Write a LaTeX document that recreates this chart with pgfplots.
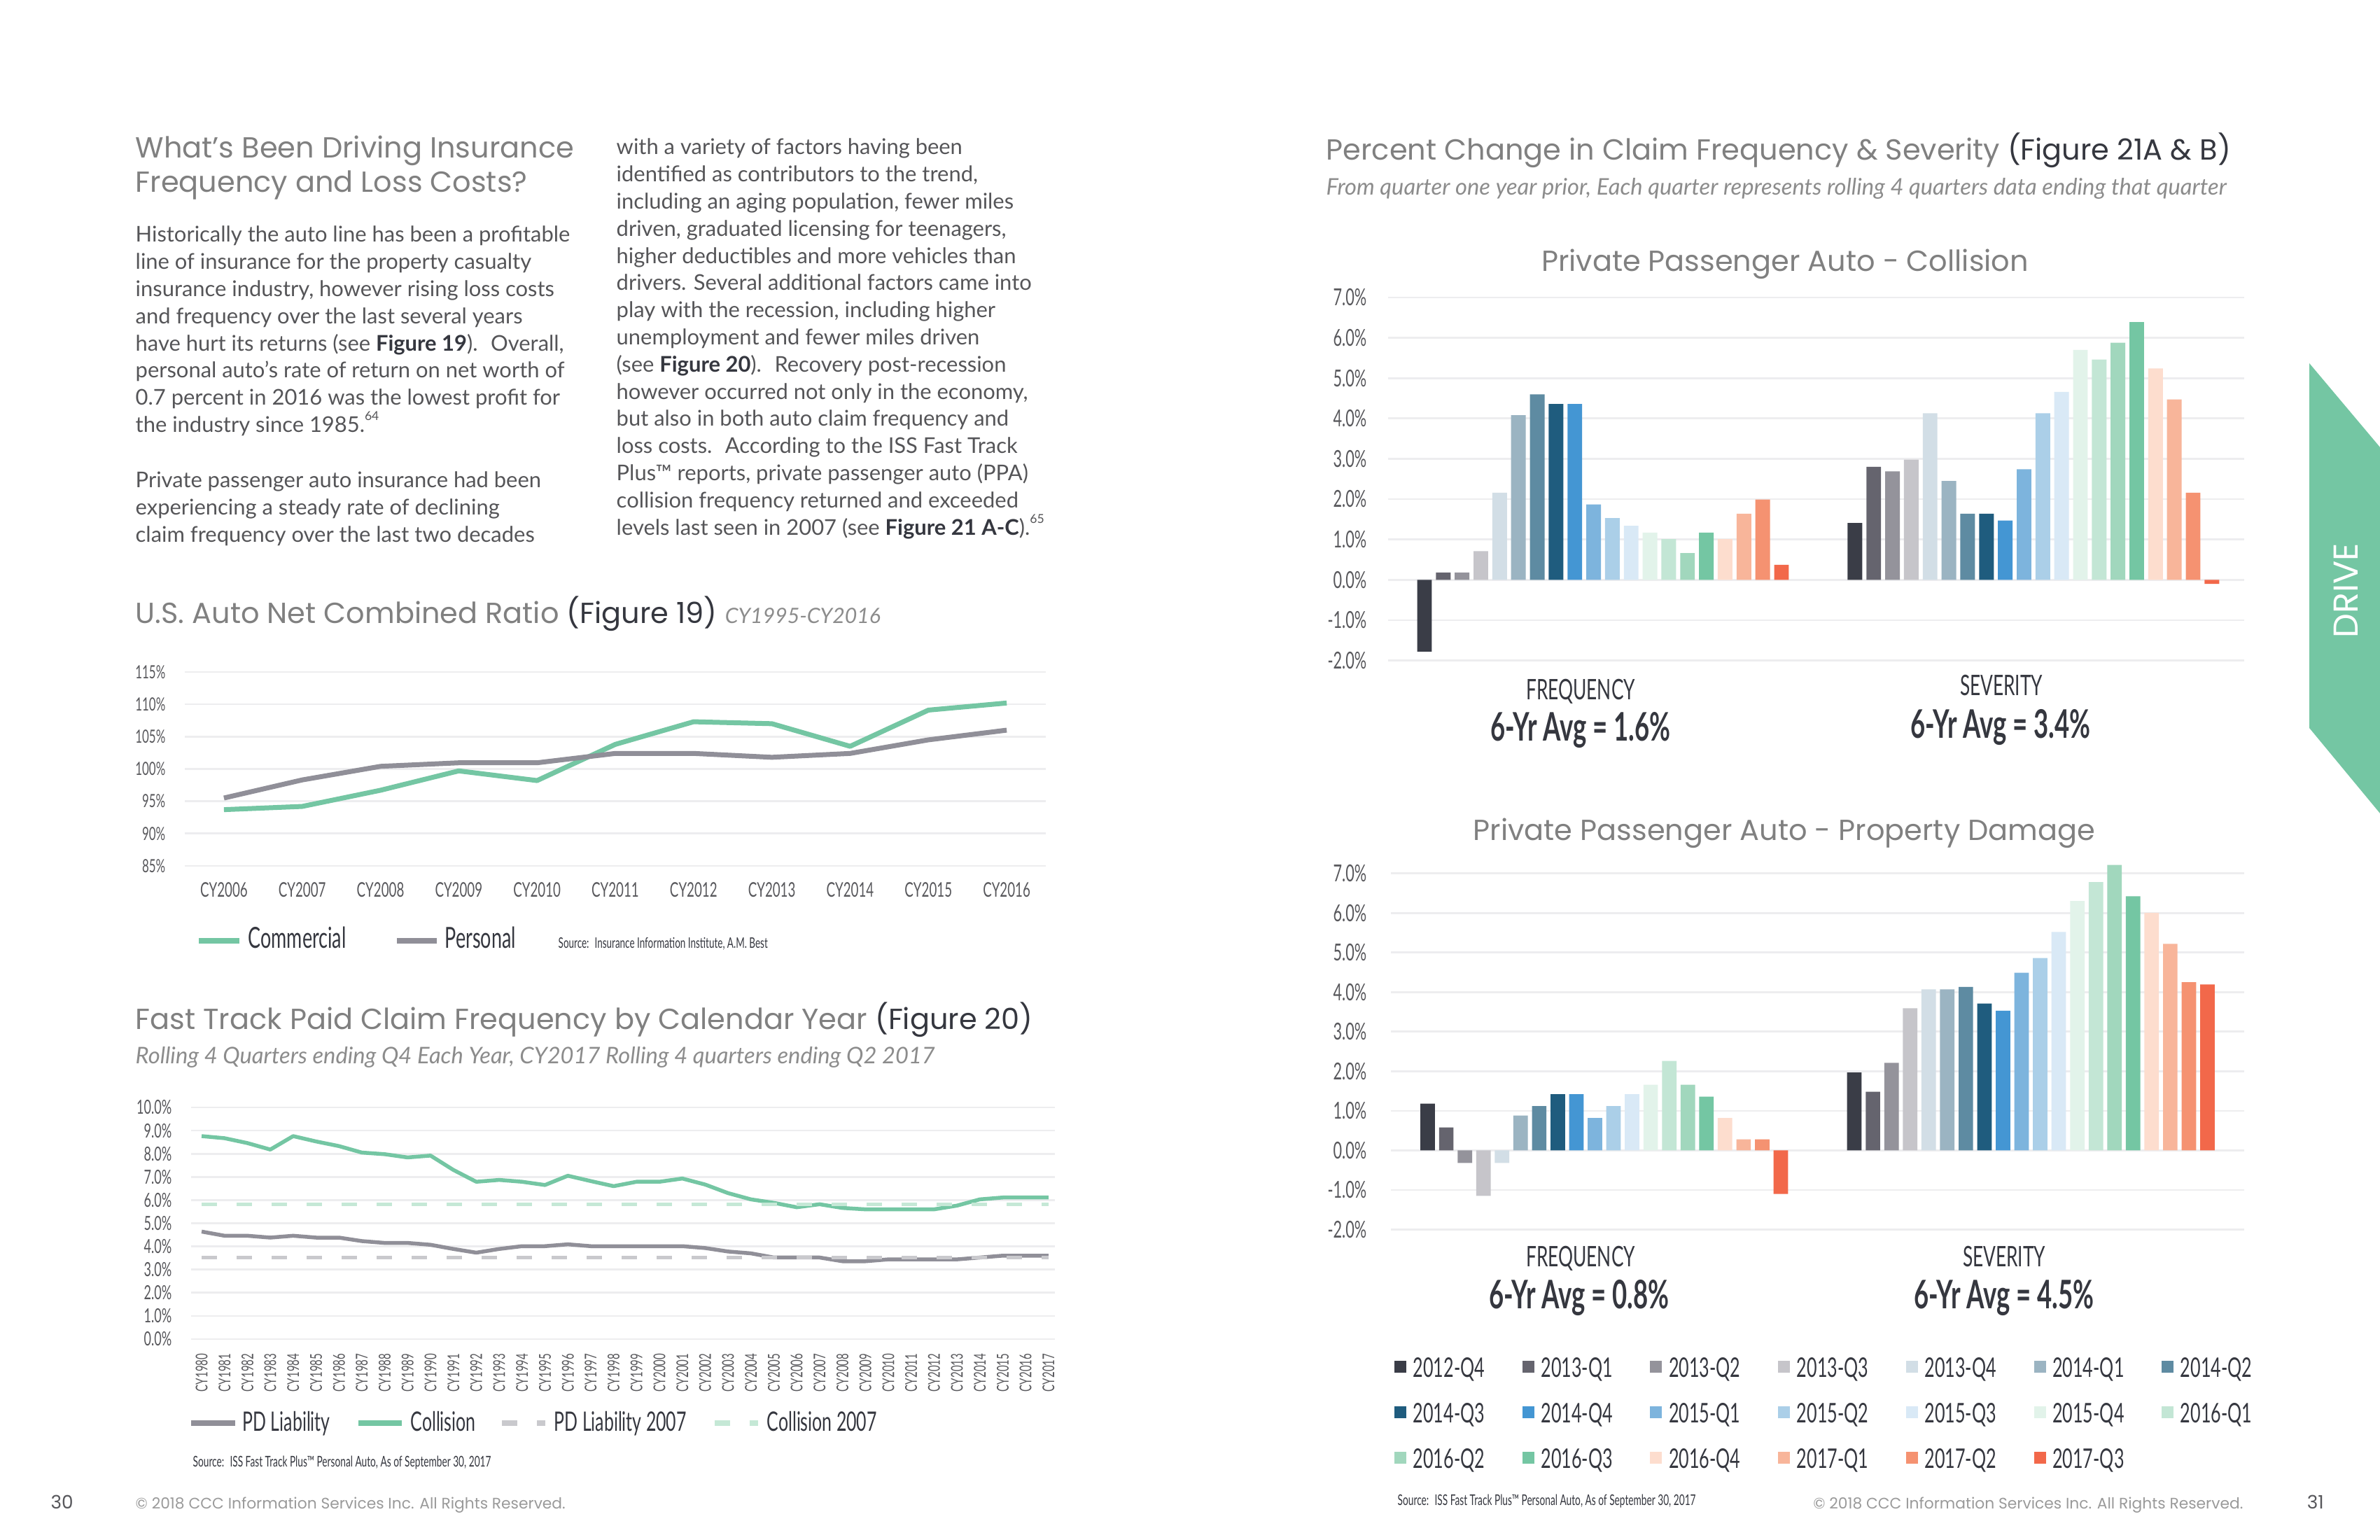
\documentclass[border=0pt]{standalone}
\usepackage{pgfplots}
\pgfplotsset{compat=1.18}
\usepackage{pgfplotstable}
\usepackage{fontspec}
\setmainfont{Lato}
\newfontfamily\headfont{Poppins}
\newfontfamily\condfont{Lato}[FakeStretch=0.65]

\definecolor{c1}{HTML}{3A3D47}
\definecolor{c2}{HTML}{65646E}
\definecolor{c3}{HTML}{94939B}
\definecolor{c4}{HTML}{C6C5CA}
\definecolor{c5}{HTML}{D2DEE6}
\definecolor{c6}{HTML}{9BB4C2}
\definecolor{c7}{HTML}{5E8BA2}
\definecolor{c8}{HTML}{1F5C7E}
\definecolor{c9}{HTML}{4496D3}
\definecolor{c10}{HTML}{7DB4DD}
\definecolor{c11}{HTML}{ABCFE8}
\definecolor{c12}{HTML}{D9E9F6}
\definecolor{c13}{HTML}{E2F3EA}
\definecolor{c14}{HTML}{C3E6D5}
\definecolor{c15}{HTML}{A1D7BD}
\definecolor{c16}{HTML}{74C6A3}
\definecolor{c17}{HTML}{FDDDCE}
\definecolor{c18}{HTML}{F8B59A}
\definecolor{c19}{HTML}{F59271}
\definecolor{c20}{HTML}{F2684A}
\definecolor{grn}{HTML}{74C6A3}
\definecolor{gry}{HTML}{908F98}
\definecolor{lgrn}{HTML}{C5E8D6}
\definecolor{lgry}{HTML}{C9C9CD}
\definecolor{gridc}{HTML}{EDEDEF}
\definecolor{headc}{HTML}{808080}
\definecolor{subc}{HTML}{8C8C8C}
\definecolor{bodyc}{HTML}{555558}
\definecolor{darkc}{HTML}{35373F}
\definecolor{tickc}{HTML}{58585C}
\definecolor{footc}{HTML}{9A9A9A}

\pgfplotstableread{
yr com per
2006 93.7 95.5
2007 94.2 98.3
2008 96.7 100.4
2009 99.7 100.95
2010 98.2 100.95
2011 103.8 102.4
2012 107.3 102.4
2013 107.0 101.8
2014 103.5 102.4
2015 109.1 104.5
2016 110.2 106.0
}\ratiotable

\pgfplotstableread{
yr col pd
1980 8.76 4.64
1981 8.67 4.46
1982 8.46 4.46
1983 8.18 4.38
1984 8.76 4.46
1985 8.53 4.38
1986 8.33 4.38
1987 8.05 4.23
1988 7.98 4.15
1989 7.84 4.15
1990 7.92 4.07
1991 7.30 3.89
1992 6.79 3.73
1993 6.87 3.89
1994 6.79 4.01
1995 6.65 4.01
1996 7.05 4.09
1997 6.82 4.01
1998 6.60 4.01
1999 6.79 4.01
2000 6.79 4.01
2001 6.93 4.01
2002 6.67 3.93
2003 6.30 3.78
2004 6.03 3.70
2005 5.88 3.52
2006 5.69 3.52
2007 5.82 3.52
2008 5.66 3.36
2009 5.60 3.36
2010 5.60 3.44
2011 5.60 3.44
2012 5.60 3.44
2013 5.76 3.44
2014 6.03 3.52
2015 6.11 3.60
2016 6.11 3.60
2017 6.11 3.60
}\frqtable

\pgfplotsset{
  pagechart/.style={
    scale only axis, anchor=south west,
    axis line style={draw=none},
    major tick length=0pt, tick style={draw=none},
    ymajorgrids, grid style={line width=0.27mm, gridc},
    yticklabel style={text=tickc, anchor=east, inner sep=0pt},
    xticklabel style={text=tickc, inner sep=0pt},
  },
  barbase/.style={ybar, bar width=0.78, bar shift=0pt, draw=none},
}

\newcommand\bodyf{\fontsize{8.8}{10}\selectfont}
\newcommand\headf{\headfont\fontsize{11.8}{13}\selectfont}
\newcommand\subf{\fontsize{9.3}{10}\selectfont\itshape}
\newcommand\fnsup[1]{\raisebox{0.55em}{\fontsize{5}{5}\selectfont #1}}

\begin{document}
\begin{tikzpicture}
\fill[white] (0,0) rectangle (340mm,220mm);
\path[use as bounding box] (0,0) rectangle (340mm,220mm);

% ---------------- Figure 19 ----------------
\begin{axis}[pagechart, at={(26.4mm,96.3mm)}, width=123mm, height=27.7mm,
  xmin=2005.5, xmax=2016.5, ymin=85, ymax=115,
  ytick={85,90,95,100,105,110,115},
  yticklabels={85\%,90\%,95\%,100\%,105\%,110\%,115\%},
  xtick={2006,2007,2008,2009,2010,2011,2012,2013,2014,2015,2016},
  xticklabels={CY2006,CY2007,CY2008,CY2009,CY2010,CY2011,CY2012,CY2013,CY2014,CY2015,CY2016},
  yticklabel style={font=\condfont\fontsize{7.4}{8}\selectfont},
  xticklabel style={font=\condfont\fontsize{8.2}{8}\selectfont},
  yticklabel shift=2.7mm, xticklabel shift=2.3mm]
\addplot[grn, line width=0.7mm, line join=round] table[x=yr, y=com] {\ratiotable};
\addplot[gry, line width=0.7mm, line join=round] table[x=yr, y=per] {\ratiotable};
\end{axis}

% ---------------- Figure 20 ----------------
\begin{axis}[pagechart, at={(27.3mm,28.7mm)}, width=123.4mm, height=33.1mm,
  xmin=1979.54, xmax=2017.28, ymin=0, ymax=10,
  ytick={0,1,2,3,4,5,6,7,8,9,10},
  yticklabels={0.0\%,1.0\%,2.0\%,3.0\%,4.0\%,5.0\%,6.0\%,7.0\%,8.0\%,9.0\%,10.0\%},
  xtick={1980,1981,...,2017},
  xticklabels={CY1980,CY1981,CY1982,CY1983,CY1984,CY1985,CY1986,CY1987,CY1988,CY1989,CY1990,CY1991,CY1992,CY1993,CY1994,CY1995,CY1996,CY1997,CY1998,CY1999,CY2000,CY2001,CY2002,CY2003,CY2004,CY2005,CY2006,CY2007,CY2008,CY2009,CY2010,CY2011,CY2012,CY2013,CY2014,CY2015,CY2016,CY2017},
  yticklabel style={font=\condfont\fontsize{7.9}{8}\selectfont},
  xticklabel style={font=\condfont\fontsize{6.6}{7}\selectfont, rotate=90, anchor=east},
  yticklabel shift=2.7mm, xticklabel shift=2.0mm]
\addplot[gry, line width=0.55mm, line join=round] table[x=yr, y=pd] {\frqtable};
\addplot[grn, line width=0.55mm, line join=round] table[x=yr, y=col] {\frqtable};
\addplot[lgry, line width=0.55mm, dash pattern=on 2.2mm off 2.8mm] coordinates {(1980,3.52) (2017,3.52)};
\addplot[lgrn, line width=0.55mm, dash pattern=on 2.2mm off 2.8mm] coordinates {(1980,5.82) (2017,5.82)};
\end{axis}

% ---------------- Figure 21A Collision ----------------
\begin{axis}[pagechart, at={(198.3mm,125.65mm)}, width=122.3mm, height=51.85mm,
  xmin=-1.937, xmax=43.63, ymin=-2, ymax=7, clip=false,
  ytick={-2,-1,0,1,2,3,4,5,6,7},
  yticklabels={-2.0\%,-1.0\%,0.0\%,1.0\%,2.0\%,3.0\%,4.0\%,5.0\%,6.0\%,7.0\%},
  xtick=\empty,
  yticklabel style={font=\condfont\fontsize{9.5}{10}\selectfont},
  yticklabel shift=3.0mm]
\addplot[barbase, fill=c1] coordinates {(0,-1.78) (22.91,1.41)};
\addplot[barbase, fill=c2] coordinates {(1,0.18) (23.91,2.80)};
\addplot[barbase, fill=c3] coordinates {(2,0.18) (24.91,2.69)};
\addplot[barbase, fill=c4] coordinates {(3,0.71) (25.91,2.98)};
\addplot[barbase, fill=c5] coordinates {(4,2.16) (26.91,4.13)};
\addplot[barbase, fill=c6] coordinates {(5,4.08) (27.91,2.45)};
\addplot[barbase, fill=c7] coordinates {(6,4.60) (28.91,1.64)};
\addplot[barbase, fill=c8] coordinates {(7,4.36) (29.91,1.64)};
\addplot[barbase, fill=c9] coordinates {(8,4.36) (30.91,1.47)};
\addplot[barbase, fill=c10] coordinates {(9,1.87) (31.91,2.74)};
\addplot[barbase, fill=c11] coordinates {(10,1.53) (32.91,4.13)};
\addplot[barbase, fill=c12] coordinates {(11,1.34) (33.91,4.66)};
\addplot[barbase, fill=c13] coordinates {(12,1.17) (34.91,5.70)};
\addplot[barbase, fill=c14] coordinates {(13,1.01) (35.91,5.46)};
\addplot[barbase, fill=c15] coordinates {(14,0.66) (36.91,5.88)};
\addplot[barbase, fill=c16] coordinates {(15,1.17) (37.91,6.39)};
\addplot[barbase, fill=c17] coordinates {(16,1.01) (38.91,5.24)};
\addplot[barbase, fill=c18] coordinates {(17,1.64) (39.91,4.47)};
\addplot[barbase, fill=c19] coordinates {(18,1.99) (40.91,2.16)};
\addplot[barbase, fill=c20] coordinates {(19,0.37) (41.91,-0.10)};
\end{axis}

% ---------------- Figure 21B Property Damage ----------------
\begin{axis}[pagechart, at={(198.7mm,44.35mm)}, width=121.9mm, height=50.89mm,
  xmin=-1.98, xmax=43.94, ymin=-2, ymax=7, clip=false,
  ytick={-2,-1,0,1,2,3,4,5,6,7},
  yticklabels={-2.0\%,-1.0\%,0.0\%,1.0\%,2.0\%,3.0\%,4.0\%,5.0\%,6.0\%,7.0\%},
  xtick=\empty,
  yticklabel style={font=\condfont\fontsize{9.5}{10}\selectfont},
  yticklabel shift=3.4mm]
\addplot[barbase, fill=c1] coordinates {(0,1.18) (22.96,1.97)};
\addplot[barbase, fill=c2] coordinates {(1,0.58) (23.96,1.48)};
\addplot[barbase, fill=c3] coordinates {(2,-0.32) (24.96,2.21)};
\addplot[barbase, fill=c4] coordinates {(3,-1.15) (25.96,3.59)};
\addplot[barbase, fill=c5] coordinates {(4,-0.32) (26.96,4.07)};
\addplot[barbase, fill=c6] coordinates {(5,0.88) (27.96,4.07)};
\addplot[barbase, fill=c7] coordinates {(6,1.12) (28.96,4.13)};
\addplot[barbase, fill=c8] coordinates {(7,1.42) (29.96,3.71)};
\addplot[barbase, fill=c9] coordinates {(8,1.42) (30.96,3.53)};
\addplot[barbase, fill=c10] coordinates {(9,0.82) (31.96,4.49)};
\addplot[barbase, fill=c11] coordinates {(10,1.12) (32.96,4.86)};
\addplot[barbase, fill=c12] coordinates {(11,1.42) (33.96,5.52)};
\addplot[barbase, fill=c13] coordinates {(12,1.66) (34.96,6.30)};
\addplot[barbase, fill=c14] coordinates {(13,2.26) (35.96,6.78)};
\addplot[barbase, fill=c15] coordinates {(14,1.66) (36.96,7.21)};
\addplot[barbase, fill=c16] coordinates {(15,1.36) (37.96,6.42)};
\addplot[barbase, fill=c17] coordinates {(16,0.82) (38.96,6.00)};
\addplot[barbase, fill=c18] coordinates {(17,0.28) (39.96,5.22)};
\addplot[barbase, fill=c19] coordinates {(18,0.28) (40.96,4.25)};
\addplot[barbase, fill=c20] coordinates {(19,-1.10) (41.96,4.19)};
\end{axis}

% ---------------- Text and decorations (pixel coordinates) ----------------
\begin{scope}[x=0.1mm, y=-0.1mm, yshift=220mm]
\tikzset{tl/.style={anchor=base west, inner sep=0pt}}
% green tab
\fill[grn] (3299,519) -- (3400,639) -- (3400,1162) -- (3299,1040) -- cycle;
\node[rotate=90, inner sep=0pt, text=white, font=\headfont\fontsize{14}{14}\selectfont] at (3351,844) {DRIVE};

% left heading
\node[tl, text=headc, font=\headf] at (193,226) {What’s Been Driving Insurance};
\node[tl, text=headc, font=\headf] at (193,275) {Frequency and Loss Costs?};

% column 1
\begin{scope}[every node/.style={tl, text=bodyc, font=\bodyf}]
\node at (193,346) {Historically the auto line has been a profitable};
\node at (193,384.8) {line of insurance for the property casualty};
\node at (193,423.6) {insurance industry, however rising loss costs};
\node at (193,462.4) {and frequency over the last several years};
\node at (193,501.2) {have hurt its returns (see {\color{darkc}\bfseries Figure 19}). \ Overall,};
\node at (193,540) {personal auto’s rate of return on net worth of};
\node at (193,578.8) {0.7 percent in 2016 was the lowest profit for};
\node at (193,617.6) {the industry since 1985.\fnsup{64}};
\node at (193,696.5) {Private passenger auto insurance had been};
\node at (193,735.3) {experiencing a steady rate of declining};
\node at (193,774.1) {claim frequency over the last two decades};
% column 2
\node at (880,221) {with a variety of factors having been};
\node at (880,259.8) {identified as contributors to the trend,};
\node at (880,298.6) {including an aging population, fewer miles};
\node at (880,337.4) {driven, graduated licensing for teenagers,};
\node at (880,376.2) {higher deductibles and more vehicles than};
\node at (880,415) {drivers. Several additional factors came into};
\node at (880,453.8) {play with the recession, including higher};
\node at (880,492.6) {unemployment and fewer miles driven};
\node at (880,531.4) {(see {\color{darkc}\bfseries Figure 20}). \ Recovery post-recession};
\node at (880,570.2) {however occurred not only in the economy,};
\node at (880,609) {but also in both auto claim frequency and};
\node at (880,647.8) {loss costs. \ According to the ISS Fast Track};
\node at (880,686.6) {Plus™ reports, private passenger auto (PPA)};
\node at (880,725.4) {collision frequency returned and exceeded};
\node at (880,764.2) {levels last seen in 2007 (see {\color{darkc}\bfseries Figure 21 A-C}).\fnsup{65}};
\end{scope}

% Figure 19 title + legend
\node[tl, font=\headf] at (193,891) {\textcolor{headc}{U.S. Auto Net Combined Ratio} \textcolor{darkc}{(Figure 19)} \textcolor{subc}{\fontsize{8.6}{9}\selectfont\normalfont\itshape CY1995-CY2016}};
\draw[grn, line width=0.85mm] (284,1344) -- (342,1344);
\node[tl, text=darkc, font=\condfont\fontsize{11.8}{12}\selectfont] at (354,1355) {Commercial};
\draw[gry, line width=0.85mm] (567,1344) -- (624,1344);
\node[tl, text=darkc, font=\condfont\fontsize{11.8}{12}\selectfont] at (635,1355) {Personal};
\node[tl, text=darkc, font=\condfont\fontsize{5.9}{6}\selectfont] at (797,1355) {Source: \ Insurance Information Institute, A.M. Best};

% Figure 20 title + legend
\node[tl, font=\headf] at (193,1471) {\textcolor{headc}{Fast Track Paid Claim Frequency by Calendar Year} \textcolor{darkc}{(Figure 20)}};
\node[tl, text=subc, font=\subf] at (193,1520) {Rolling 4 Quarters ending Q4 Each Year, CY2017 Rolling 4 quarters ending Q2 2017};
\draw[gry, line width=0.75mm] (273,2033) -- (336,2033);
\node[tl, text=darkc, font=\condfont\fontsize{10.9}{11}\selectfont] at (346,2044) {PD Liability};
\draw[grn, line width=0.75mm] (512,2033) -- (574,2033);
\node[tl, text=darkc, font=\condfont\fontsize{10.9}{11}\selectfont] at (586,2044) {Collision};
\draw[lgry, line width=0.75mm, dash pattern=on 2.2mm off 2.8mm] (717,2033) -- (779,2033);
\node[tl, text=darkc, font=\condfont\fontsize{10.9}{11}\selectfont] at (791,2044) {PD Liability 2007};
\draw[lgrn, line width=0.75mm, dash pattern=on 2.2mm off 2.8mm] (1021,2033) -- (1083,2033);
\node[tl, text=darkc, font=\condfont\fontsize{10.9}{11}\selectfont] at (1095,2044) {Collision 2007};
\node[tl, text=darkc, font=\condfont\fontsize{6.0}{6}\selectfont] at (275,2095) {Source: \ ISS Fast Track Plus™ Personal Auto, As of September 30, 2017};

% Figure 21 titles
\node[tl, font=\headf] at (1894,229) {\textcolor{headc}{Percent Change in Claim Frequency \& Severity} \textcolor{darkc}{(Figure 21A \& B)}};
\node[tl, text=subc, font=\subf] at (1894,279) {From quarter one year prior, Each quarter represents rolling 4 quarters data ending that quarter};
\node[anchor=base, inner sep=0pt, text=headc, font=\headf] at (2550,388) {Private Passenger Auto - Collision};
\node[anchor=base, inner sep=0pt, text=headc, font=\headf] at (2549,1200.6) {Private Passenger Auto - Property Damage};

\begin{scope}[every node/.style={anchor=base, inner sep=0pt, text=darkc}]
\node[font=\condfont\fontsize{11.5}{12}\selectfont] at (2258,1000) {FREQUENCY};
\node[font=\condfont\fontsize{11.5}{12}\selectfont] at (2859,994) {SEVERITY};
\node[font=\condfont\bfseries\fontsize{16}{16}\selectfont] at (2258,1059) {6-Yr Avg = 1.6\%};
\node[font=\condfont\bfseries\fontsize{16}{16}\selectfont] at (2858,1055) {6-Yr Avg = 3.4\%};
\node[font=\condfont\fontsize{11.5}{12}\selectfont] at (2258,1809) {FREQUENCY};
\node[font=\condfont\fontsize{11.5}{12}\selectfont] at (2863,1809) {SEVERITY};
\node[font=\condfont\bfseries\fontsize{16}{16}\selectfont] at (2256,1869.5) {6-Yr Avg = 0.8\%};
\node[font=\condfont\bfseries\fontsize{16}{16}\selectfont] at (2863,1869) {6-Yr Avg = 4.5\%};
\end{scope}

% legend for Figure 21
\foreach \lab [count=\n from 0] in {2012-Q4,2013-Q1,2013-Q2,2013-Q3,2013-Q4,2014-Q1,2014-Q2,2014-Q3,2014-Q4,2015-Q1,2015-Q2,2015-Q3,2015-Q4,2016-Q1,2016-Q2,2016-Q3,2016-Q4,2017-Q1,2017-Q2,2017-Q3} {
  \pgfmathtruncatemacro\cc{mod(\n,7)}
  \pgfmathtruncatemacro\rr{int(\n/7)}
  \pgfmathtruncatemacro\ci{\n+1}
  \fill[c\ci] (2018+182.7*\cc-26,1944+65*\rr) rectangle ++(17,17);
  \node[tl, text=darkc, font=\condfont\fontsize{11}{11}\selectfont] at (2018+182.7*\cc,1967+65*\rr) {\lab};
}
\node[tl, text=darkc, font=\condfont\fontsize{6.0}{6}\selectfont] at (1996,2150) {Source: \ ISS Fast Track Plus™ Personal Auto, As of September 30, 2017};

% footers
\node[tl, text=footc, font=\headfont\fontsize{6.2}{6}\selectfont] at (193,2155) {© 2018 CCC Information Services Inc. All Rights Reserved.};
\node[anchor=base east, inner sep=0pt, text=footc, font=\headfont\fontsize{6.2}{6}\selectfont] at (3205,2155) {© 2018 CCC Information Services Inc. All Rights Reserved.};
\node[tl, text=tickc, font=\headfont\fontsize{7.5}{8}\selectfont] at (72,2155) {30};
\node[tl, text=tickc, font=\headfont\fontsize{7.5}{8}\selectfont] at (3295,2155) {31};
\end{scope}
\end{tikzpicture}
\end{document}
